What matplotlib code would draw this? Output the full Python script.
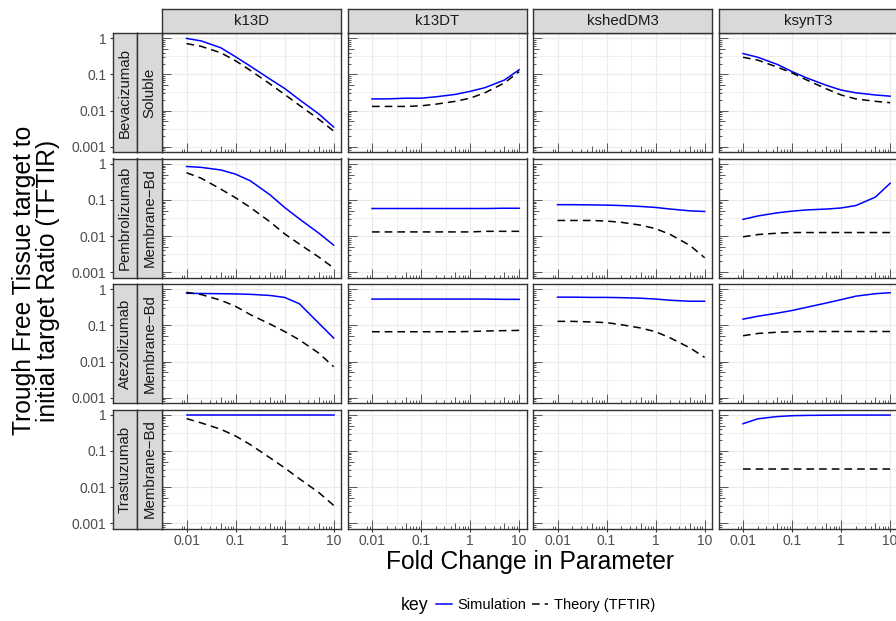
import matplotlib
matplotlib.use('Agg')
import matplotlib.pyplot as plt
from matplotlib.lines import Line2D
from matplotlib.ticker import NullLocator

plt.rcParams['font.family'] = ['Liberation Sans', 'DejaVu Sans']

# ---------------- data ----------------
fold = [0.01, 0.02, 0.05, 0.1, 0.2, 0.5, 1, 2, 5, 10]
params = ['k13D', 'k13DT', 'kshedDM3', 'ksynT3']
drugs = ['Bevacizumab', 'Pembrolizumab', 'Atezolizumab', 'Trastuzumab']
target_types = ['Soluble', 'Membrane\u2212Bd', 'Membrane\u2212Bd', 'Membrane\u2212Bd']
x_tick_vals = [0.01, 0.1, 1, 10]
x_tick_labels = ['0.01', '0.1', '1', '10']
y_tick_vals = [0.001, 0.01, 0.1, 1]
y_tick_labels = ['0.001', '0.01', '0.1', '1']

# Bevacizumab
bev_k13D_sim = [1.0, 0.85, 0.55, 0.31, 0.17, 0.075, 0.041, 0.02, 0.008, 0.0035]
bev_k13D_theory = [0.72, 0.6, 0.4, 0.24, 0.13, 0.055, 0.028, 0.014, 0.0057, 0.0027]
bev_k13DT_sim = [0.021, 0.021, 0.022, 0.022, 0.024, 0.028, 0.034, 0.043, 0.07, 0.135]
bev_k13DT_theory = [0.013, 0.013, 0.013, 0.0135, 0.015, 0.018, 0.022, 0.031, 0.058, 0.12]
bev_ksynT3_sim = [0.38, 0.3, 0.19, 0.12, 0.08, 0.05, 0.037, 0.031, 0.027, 0.025]
bev_ksynT3_theory = [0.30, 0.25, 0.16, 0.11, 0.07, 0.04, 0.027, 0.021, 0.018, 0.0165]

# Pembrolizumab
pem_k13D_sim = [0.85, 0.8, 0.68, 0.52, 0.34, 0.14, 0.062, 0.03, 0.012, 0.0056]
pem_k13D_theory = [0.57, 0.4, 0.2, 0.115, 0.062, 0.025, 0.0115, 0.006, 0.0026, 0.0013]
pem_k13DT_sim = [0.058, 0.058, 0.058, 0.058, 0.058, 0.058, 0.058, 0.058, 0.059, 0.059]
pem_k13DT_theory = [0.013, 0.013, 0.013, 0.013, 0.013, 0.013, 0.013, 0.0135, 0.0135, 0.0135]
pem_kshedDM3_sim = [0.074, 0.074, 0.073, 0.072, 0.07, 0.066, 0.062, 0.056, 0.05, 0.048]
pem_kshedDM3_theory = [0.027, 0.027, 0.027, 0.026, 0.024, 0.02, 0.016, 0.011, 0.0055, 0.0025]
pem_ksynT3_sim = [0.029, 0.036, 0.044, 0.049, 0.053, 0.056, 0.06, 0.07, 0.12, 0.29]
pem_ksynT3_theory = [0.0095, 0.011, 0.012, 0.0125, 0.0125, 0.0125, 0.0125, 0.0125, 0.0125, 0.0125]

# Atezolizumab
ate_k13D_sim = [0.78, 0.77, 0.76, 0.75, 0.73, 0.68, 0.6, 0.4, 0.115, 0.045]
ate_k13D_theory = [0.83, 0.72, 0.5, 0.34, 0.2, 0.11, 0.068, 0.04, 0.017, 0.0072]
ate_k13DT_sim = [0.54, 0.54, 0.54, 0.54, 0.54, 0.54, 0.54, 0.54, 0.53, 0.53]
ate_k13DT_theory = [0.067, 0.067, 0.067, 0.067, 0.067, 0.067, 0.068, 0.07, 0.072, 0.073]
ate_kshedDM3_sim = [0.61, 0.61, 0.6, 0.6, 0.59, 0.57, 0.54, 0.5, 0.47, 0.47]
ate_kshedDM3_theory = [0.13, 0.13, 0.125, 0.12, 0.105, 0.085, 0.067, 0.045, 0.024, 0.013]
ate_ksynT3_sim = [0.15, 0.18, 0.22, 0.26, 0.32, 0.42, 0.52, 0.65, 0.76, 0.81]
ate_ksynT3_theory = [0.052, 0.06, 0.065, 0.067, 0.068, 0.068, 0.068, 0.068, 0.068, 0.068]

# Trastuzumab
tra_k13D_sim = [0.98, 0.98, 0.98, 0.98, 0.98, 0.98, 0.98, 0.98, 0.98, 0.98]
tra_k13D_theory = [0.79, 0.6, 0.4, 0.26, 0.15, 0.065, 0.034, 0.017, 0.007, 0.0031]
tra_ksynT3_sim = [0.57, 0.78, 0.9, 0.95, 0.97, 0.98, 0.99, 0.99, 0.99, 0.99]
tra_ksynT3_theory = [0.031, 0.031, 0.031, 0.031, 0.031, 0.031, 0.031, 0.031, 0.031, 0.031]

panels = {
    (0, 0): (bev_k13D_sim, bev_k13D_theory),
    (0, 1): (bev_k13DT_sim, bev_k13DT_theory),
    (0, 3): (bev_ksynT3_sim, bev_ksynT3_theory),
    (1, 0): (pem_k13D_sim, pem_k13D_theory),
    (1, 1): (pem_k13DT_sim, pem_k13DT_theory),
    (1, 2): (pem_kshedDM3_sim, pem_kshedDM3_theory),
    (1, 3): (pem_ksynT3_sim, pem_ksynT3_theory),
    (2, 0): (ate_k13D_sim, ate_k13D_theory),
    (2, 1): (ate_k13DT_sim, ate_k13DT_theory),
    (2, 2): (ate_kshedDM3_sim, ate_kshedDM3_theory),
    (2, 3): (ate_ksynT3_sim, ate_ksynT3_theory),
    (3, 0): (tra_k13D_sim, tra_k13D_theory),
    (3, 3): (tra_ksynT3_sim, tra_ksynT3_theory),
}

# ---------------- layout ----------------
W, H = 896, 621
fig = plt.figure(figsize=(W / 100, H / 100), dpi=100)
fig.patch.set_facecolor('white')

col_left = [162, 347.5, 533, 718.5]
col_w = 179
row_top = [33, 158.5, 284, 409.5]
row_h = 119
strip_top_y, strip_h = 9, 24
drug_strip_x, type_strip_x, side_w = 112.7, 137.2, 24.5

def rect(x, y, w, h):
    return [x / W, 1 - (y + h) / H, w / W, h / H]

xlim = (10 ** -2.15, 10 ** 1.15)
ylim = (10 ** -3.15, 10 ** 0.15)
minor = [10 ** -2.5, 10 ** -1.5, 10 ** -0.5, 10 ** 0.5]
yminor = [10 ** -2.5, 10 ** -1.5, 10 ** -0.5]

BORDER = '#333333'
STRIP = '#D9D9D9'
GRID = '#EBEBEB'
TICKTXT = '#4D4D4D'
tick_fs = 10
strip_fs = 10.8

def logtick_list(lo, hi):
    vals, lens = [], []
    for e in range(-5, 3):
        for m in range(1, 10):
            v = m * 10.0 ** e
            if lo <= v <= hi:
                vals.append(v)
                lens.append(9 if m == 1 else (6 if m == 5 else 3))
    return vals, lens

xt_vals, xt_lens = logtick_list(*xlim)
yt_vals, yt_lens = logtick_list(*ylim)

for r in range(4):
    for c in range(4):
        ax = fig.add_axes(rect(col_left[c], row_top[r], col_w, row_h))
        ax.set_xscale('log')
        ax.set_yscale('log')
        ax.set_xlim(*xlim)
        ax.set_ylim(*ylim)
        ax.set_xticks(x_tick_vals)
        ax.set_xticks(minor, minor=True)
        ax.set_yticks(y_tick_vals)
        ax.set_yticks(yminor, minor=True)
        ax.grid(which='major', color=GRID, lw=0.8)
        ax.grid(which='minor', color=GRID, lw=0.55)
        ax.set_axisbelow(True)
        for sp in ax.spines.values():
            sp.set_color(BORDER)
            sp.set_linewidth(1.0)
            sp.set_zorder(5)
        ax.tick_params(axis='y', which='both', left=False, labelleft=False)
        ax.tick_params(axis='x', which='minor', length=0)
        if r == 3:
            ax.set_xticklabels(x_tick_labels)
            ax.tick_params(axis='x', which='major', length=2.2, width=0.8,
                           color=BORDER, labelcolor=TICKTXT, labelsize=tick_fs, pad=2)
        else:
            ax.tick_params(axis='x', which='both', bottom=False, labelbottom=False)
        # log ticks (annotation_logticks style)
        ax.vlines(xt_vals, 0, [l / row_h for l in xt_lens],
                  transform=ax.get_xaxis_transform(), color='#555555', lw=0.7, zorder=3)
        ax.hlines(yt_vals, 0, [l / col_w for l in yt_lens],
                  transform=ax.get_yaxis_transform(), color='#555555', lw=0.7, zorder=3)
        if (r, c) in panels:
            sim, theory = panels[(r, c)]
            ax.plot(fold, sim, color='#0000FF', lw=1.1, zorder=4)
            ax.plot(fold, theory, color='black', lw=1.1, dashes=(5, 3.3), zorder=4)

# top strips
for c, p in enumerate(params):
    s = fig.add_axes(rect(col_left[c], strip_top_y, col_w, strip_h))
    s.set_facecolor(STRIP)
    s.set_xticks([]); s.set_yticks([])
    for sp in s.spines.values():
        sp.set_color(BORDER); sp.set_linewidth(1.0)
    s.text(0.5, 0.5, p, ha='center', va='center', fontsize=strip_fs,
           color='#1A1A1A', transform=s.transAxes)

# left strips (with y axis)
for r in range(4):
    d = fig.add_axes(rect(drug_strip_x, row_top[r], side_w, row_h))
    d.set_facecolor(STRIP)
    d.set_xticks([])
    d.set_yscale('log')
    d.set_ylim(*ylim)
    d.set_yticks(y_tick_vals)
    d.set_yticklabels(y_tick_labels)
    d.yaxis.set_minor_locator(NullLocator())
    d.tick_params(axis='y', which='major', length=2.4, width=0.8, color=BORDER,
                  labelcolor=TICKTXT, labelsize=tick_fs, pad=2)
    for sp in d.spines.values():
        sp.set_color(BORDER); sp.set_linewidth(1.0)
    d.text(0.5, 0.5, drugs[r], ha='center', va='center', rotation=90,
           fontsize=strip_fs, color='#1A1A1A', transform=d.transAxes)

    t = fig.add_axes(rect(type_strip_x, row_top[r], side_w, row_h))
    t.set_facecolor(STRIP)
    t.set_xticks([]); t.set_yticks([])
    for sp in t.spines.values():
        sp.set_color(BORDER); sp.set_linewidth(1.0)
    t.text(0.5, 0.5, target_types[r], ha='center', va='center', rotation=90,
           fontsize=strip_fs, color='#1A1A1A', transform=t.transAxes)

# axis titles
fig.text(530 / W, 1 - 561.5 / H, 'Fold Change in Parameter', ha='center', va='center',
         fontsize=17.7, color='black')
fig.text(36 / W, 1 - 280.5 / H, 'Trough Free Tissue target to\ninitial target Ratio (TFTIR)',
         ha='center', va='center', rotation=90, fontsize=17.7, color='black',
         linespacing=0.98, multialignment='center')

# legend
fig.text(401 / W, 1 - 606 / H, 'key', ha='left', va='center', fontsize=12.8, color='black')
handles = [Line2D([], [], color='#0000FF', lw=1.1),
           Line2D([], [], color='black', lw=1.1, dashes=(5, 3.3))]
fig.legend(handles, ['Simulation', 'Theory (TFTIR)'], loc='center left',
           bbox_to_anchor=(436 / W, 1 - 605 / H), ncol=2, frameon=False, fontsize=10.5,
           handlelength=1.1, handletextpad=0.36, columnspacing=0.42,
           borderpad=0, borderaxespad=0)

fig.savefig('out.png', dpi=100, facecolor='white')
